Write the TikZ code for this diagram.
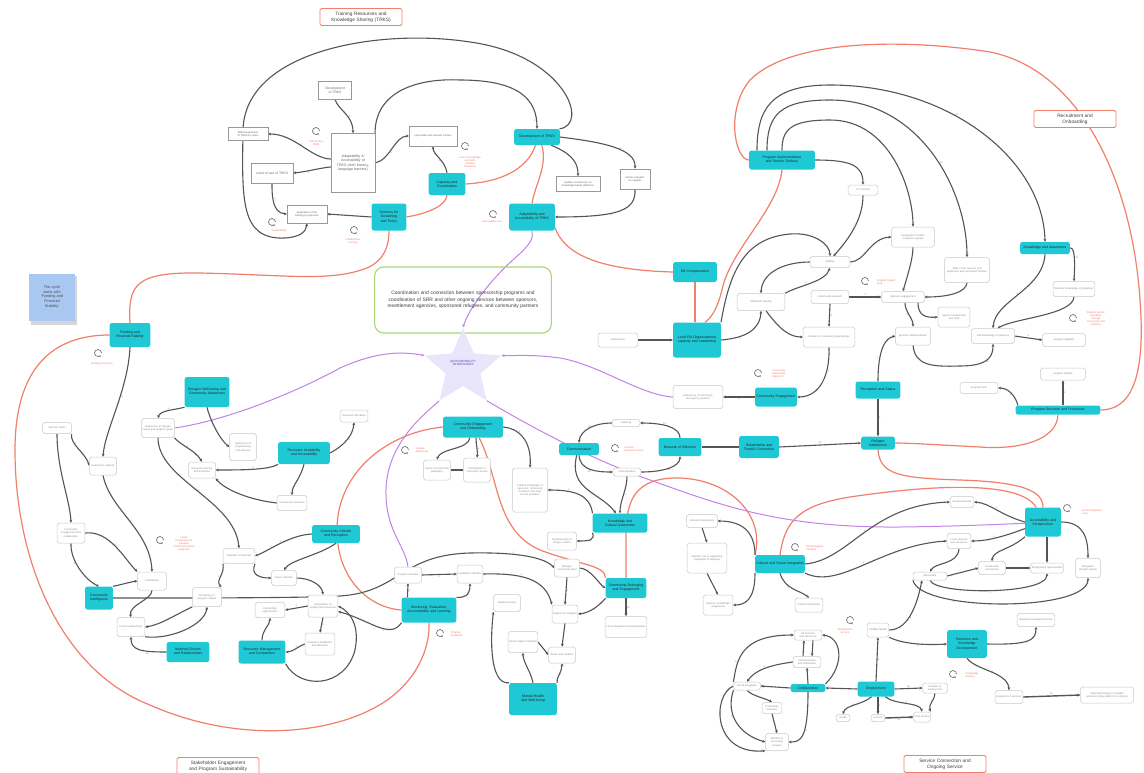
\documentclass[tikz,border=0pt]{standalone}
\usepackage{fontspec}
\setmainfont{Liberation Sans}
\usetikzlibrary{arrows.meta,shapes.geometric,calc}
\pgfdeclarelayer{bgl}
\pgfdeclarelayer{edges}
\pgfsetlayers{bgl,edges,main}
\definecolor{tealc}{RGB}{30,200,212}
\definecolor{redc}{RGB}{242,126,108}
\definecolor{purc}{RGB}{192,132,230}
\definecolor{lineg}{RGB}{85,85,85}
\definecolor{boxg}{RGB}{200,200,200}
\definecolor{greenc}{RGB}{168,214,120}
\definecolor{starc}{RGB}{233,229,250}
\definecolor{stickyc}{RGB}{168,200,242}
\definecolor{acctblue}{RGB}{60,70,200}
\hyphenpenalty=10000
\exhyphenpenalty=10000
\begin{document}
\begin{tikzpicture}[x=1pt,y=-1pt,
  tb/.style 2 args={draw=none,fill=tealc,rounded corners=2.2pt,align=center,text width=#1,minimum height=#2,inner sep=0.8pt,font=\fontsize{3.5}{4.1}\selectfont,text=black!85},
  wb/.style 2 args={draw=boxg,fill=white,rounded corners=1.8pt,align=center,text width=#1,minimum height=#2,inner sep=0.8pt,line width=0.5pt,font=\fontsize{2.6}{3.1}\selectfont,text=black!45},
  sq/.style 2 args={draw=black!40,fill=white,align=center,text width=#1,minimum height=#2,inner sep=0.8pt,line width=0.5pt,font=\fontsize{3.3}{4}\selectfont,text=black!60},
  ttl/.style={draw=redc,line width=0.9pt,rounded corners=1.5pt,fill=white,align=center,text width=80pt,minimum height=17pt,inner sep=1pt,font=\fontsize{4.8}{5.8}\selectfont,text=black!75},
  lp/.style={circle,draw=none,minimum size=7pt,inner sep=0pt},
  ll/.style={text=redc,font=\fontsize{2.6}{3}\selectfont,align=center,inner sep=0pt},
  gl/.style={draw=lineg,line width=1.1pt,-{Stealth[length=3pt,width=2.8pt]}},
  gn/.style={draw=lineg,line width=1.1pt},
  rl/.style={draw=redc,line width=1.2pt},
  pl/.style={draw=purc,line width=1pt},
  pa/.style={draw=purc,line width=1pt,-{Stealth[length=3pt,width=2.8pt]}},
  pol/.style={font=\fontsize{2.8}{3}\selectfont,text=black!60,inner sep=0.5pt},
]
\useasboundingbox (0,0) rectangle (1144,772);

% ---------- region titles ----------
\node[ttl] (tTRKS) at (361,17) {Training Resources and\\Knowledge Sharing (TRKS)};
\node[ttl] (tRecr) at (1075,119) {Recruitment and\\Onboarding};
\node[ttl] (tStake) at (218,766) {Stakeholder Engagement\\and Program Sustainability};
\node[ttl] (tServ) at (945,764) {Service Connection and\\Ongoing Service};

% ---------- note, central statement, accountability star ----------
\node[fill=stickyc,text width=40pt,minimum height=47pt,align=center,inner sep=3pt,font=\fontsize{3.8}{4.8}\selectfont,text=black!70] (sticky) at (52,297) {The cycle\\starts with\\‘Funding and\\Financial\\Stability’};
\node[draw=greenc,line width=1.1pt,rounded corners=9pt,fill=none,text width=170pt,minimum height=66pt,align=center,font=\fontsize{4.9}{6.4}\selectfont,text=black!75] (coord) at (463,300) {Coordination and connection between sponsorship programs and coordination of SRR and other ongoing services between sponsors, resettlement agencies, sponsored refugees, and community partners};
\node[star,star points=5,star point ratio=2.2,minimum size=80pt,fill=starc,inner sep=0pt] (acct) at (463,368) {};
\node[font=\fontsize{3}{3.6}\selectfont,text=acctblue,align=center,inner sep=0pt] (accttxt) at (463,363) {ACCOUNTABILITY\\TO REFUGEES};

% ---------- key variables (teal) ----------
\node[tb={44pt}{16pt}] (devtrks) at (537,137) {Development of TRKS};
\node[tb={35pt}{22pt}] (capcoord) at (447,184) {Capacity and Coordination};
\node[tb={33pt}{27pt}] (servsus) at (389,217) {Services for Sustaining and Policy};
\node[tb={44pt}{27pt}] (adapt) at (532,217) {Adaptability and Accessibility of TRKS};
\node[tb={39pt}{24pt}] (fund) at (130,335) {Funding and Financial Stability};
\node[tb={43pt}{30pt}] (wellaware) at (207,392) {Refugee Well-being and Community Awareness};
\node[tb={50pt}{22pt}] (resavail) at (304,453) {Resource Availability and Accessibility};
\node[tb={46pt}{18pt}] (commatt) at (336,534) {Community Attitude and Perception};
\node[tb={26pt}{23pt}] (commint) at (99,598) {Community Intelligence};
\node[tb={41pt}{20pt}] (matched) at (188,652) {Matched Donors and Relationships};
\node[tb={45pt}{23pt}] (resmgmt) at (262,652) {Resource Management and Competition};
\node[tb={53pt}{25pt}] (meal) at (429,610) {Monitoring, Evaluation, Accountability and Learning};
\node[tb={58pt}{21pt}] (commeng) at (473,427) {Community Engagement and Onboarding};
\node[tb={46pt}{32pt}] (mental) at (533,699) {Mental Health and Well-being};
\node[tb={39pt}{20pt}] (belong) at (626,588) {Community Belonging and Engagement};
\node[tb={53pt}{19pt}] (knowcult) at (620,523) {Knowledge and Cultural Awareness};
\node[tb={38pt}{12pt}] (comm) at (579,449) {Communication};
\node[tb={41pt}{18pt}] (netinf) at (680,447) {Network of Influence};
\node[tb={38pt}{22pt}] (reltrust) at (759,447) {Relationship and Trustful Connection};
\node[tb={32pt}{13pt}] (refsat) at (878,443) {Refugee Satisfaction};
\node[tb={64pt}{19pt}] (progimpl) at (782,160) {Program Implementation and Service Delivery};
\node[tb={42pt}{20pt}] (billc) at (695,272) {Bill Compensation};
\node[tb={46pt}{35pt}] (localra) at (697,340) {Local RA Organizational capacity and Leadership};
\node[tb={48pt}{12pt}] (knowaw) at (1045,248) {Knowledge and Awareness};
\node[tb={40pt}{19pt}] (commengage) at (776,397) {Community Engagement};
\node[tb={43pt}{17pt}] (percept) at (878,390) {Perception and Status};
\node[tb={83pt}{9pt}] (progstruct) at (1058,410) {Program Structure and Processes};
\node[tb={34pt}{29pt}] (access) at (1043,522) {Accessibility and Infrastructure};
\node[tb={48pt}{18pt}] (cultint) at (780,564) {Cultural and Social Integration};
\node[tb={38pt}{28pt}] (resknow) at (967,644) {Resource and Knowledge Development};
\node[tb={35pt}{15pt}] (employ) at (876,689) {Employment};
\node[tb={33pt}{8pt}] (collab) at (808,688) {Collaboration};

% ---------- TRKS variables ----------
\node[sq={31pt}{18pt}] (wdev) at (335,90) {Development of TRKS};
\node[sq={42pt}{59pt},font=\fontsize{3.6}{4.6}\selectfont] (wadapt) at (353,163) {Adaptability \& Accessibility of TRKS (tech literacy, language barriers)};
\node[sq={38pt}{13pt},font=\fontsize{2.6}{3.1}\selectfont] (weff) at (248,134) {Effectiveness/use of TRKS by users};
\node[sq={40pt}{20pt}] (wlevel) at (272,173) {Level of use of TRKS};
\node[sq={38pt}{18pt},font=\fontsize{2.6}{3.1}\selectfont] (wapp) at (307,214) {Application of the training by sponsors};
\node[sq={46pt}{20pt},font=\fontsize{2.6}{3.1}\selectfont] (wupdate) at (433,136) {Up-to-date and relevant content};
\node[sq={42pt}{15pt},font=\fontsize{2.6}{3.1}\selectfont] (wupd2) at (578,184) {Update of resources on knowledge-based platforms};
\node[sq={28pt}{20pt},font=\fontsize{2.6}{3.1}\selectfont] (wadhoc) at (635,179) {Ad-hoc requests for support};

% ---------- recruitment variables ----------
\node[wb={28pt}{10pt}] (wcoh) at (863,190) {\# of cohorts};
\node[wb={38pt}{11pt}] (wstaff) at (830,262) {Staffing};
\node[wb={41pt}{20pt}] (wgeo) at (913,237) {Geographic location of sponsor groups};
\node[wb={43pt}{25pt}] (wskill) at (967,270) {Skills of the sponsor and applicants and sponsored families};
\node[wb={46pt}{17pt}] (wstcap) at (761,302) {Staff/staff capacity};
\node[wb={36pt}{13pt}] (woutr) at (830,297) {Community outreach};
\node[wb={41pt}{11pt}] (wspeng) at (903,297) {Sponsor engagement};
\node[wb={30pt}{20pt}] (wsprel) at (954,317) {Sponsor relationship with staff};
\node[wb={33pt}{18pt}] (wspimp) at (913,336) {Sponsor implementation};
\node[wb={50pt}{20pt}] (wdeliv) at (829,337) {Delivery of community partnerships};
\node[wb={41pt}{15pt}] (wself) at (993,336) {Self-knowledge of sponsors};
\node[wb={40pt}{15pt}] (wspknow) at (1074,289) {Sponsor knowledge of guidelines};
\node[wb={41pt}{13pt}] (welig) at (1064,340) {program eligibility};
\node[wb={43pt}{12pt}] (wstab) at (1063,374) {program stability};
\node[wb={36pt}{11pt}] (wtools) at (979,388) {program tools};
\node[wb={48pt}{23pt}] (wexp) at (698,397) {Experience of community and agency partners};
\node[wb={38pt}{14pt}] (wrefine) at (618,340) {Refinement};

% ---------- stakeholder variables ----------
\node[wb={27pt}{11pt}] (wspfund) at (57,428) {Sponsor funds};
\node[wb={25pt}{18pt}] (winvest) at (103,466) {Investment capacity};
\node[wb={26pt}{20pt}] (wcollab) at (71,533) {Community engagement and collaboration};
\node[wb={27pt}{18pt}] (wfundr) at (152,581) {Fundraising};
\node[wb={31pt}{19pt}] (wawar) at (158,428) {Awareness of refugee needs and program goals};
\node[wb={25pt}{27pt}] (wawprog) at (243,447) {Awareness of programming and services};
\node[wb={26pt}{12pt}] (wresall) at (354,416) {Resource allocation};
\node[wb={25pt}{16pt}] (wshare) at (202,470) {Resource sharing and donations};
\node[wb={28pt}{15pt}] (wcomres) at (292,503) {Community resources};
\node[wb={30pt}{15pt}] (wvol) at (239,556) {Volunteer recruitment};
\node[wb={23pt}{15pt}] (wdon) at (284,578) {Donor retention};
\node[wb={27pt}{19pt}] (wmonit) at (207,597) {Monitoring of program impact};
\node[wb={26pt}{19pt}] (wdonrel) at (131,627) {Donor relationships};
\node[wb={28pt}{15pt}] (wpartn) at (270,610) {Partnership opportunities};
\node[wb={28pt}{22pt}] (wcompet) at (323,606) {Competition for funding and resources};
\node[wb={28pt}{22pt}] (wresdist) at (320,644) {Resource distribution and allocation};
\node[wb={25pt}{16pt}] (wactiv) at (408,575) {Program activities};
\node[wb={24pt}{18pt}] (wfeed) at (470,574) {Feedback collection};
\node[wb={23pt}{18pt}] (wrefeng) at (567,568) {Refugee community input};
\node[wb={24pt}{18pt}] (wsupp) at (565,614) {Support for refugees};
\node[wb={25pt}{17pt}] (wserv) at (507,603) {Health services};
\node[wb={28pt}{21pt}] (wsupnet) at (523,642) {Social support networks};
\node[wb={25pt}{16pt}] (wstress) at (562,655) {Stress and isolation};
\node[wb={40pt}{21pt}] (wlang) at (626,627) {Local integration and participation};
\node[wb={27pt}{18pt}] (wcult) at (562,541) {Understanding of refugee culture};
\node[wb={33pt}{44pt}] (wtall) at (530,490) {Cultural knowledge of sponsors, community members and local service providers};
\node[wb={25pt}{20pt}] (wcomm1) at (437,470) {Sense of community belonging};
\node[wb={25pt}{24pt}] (wcomm2) at (477,470) {Participation in community events};
\node[wb={26pt}{7pt}] (wlisten) at (626,423) {Listening};
\node[wb={26pt}{8pt}] (wunder) at (627,472) {Understanding};

% ---------- service variables ----------
\node[wb={29pt}{13pt}] (wcultcomp) at (702,521) {Cultural Competency};
\node[wb={38pt}{30pt}] (wsprole) at (707,558) {Sponsor role in supporting integration of refugees};
\node[wb={28pt}{20pt}] (wspaware) at (718,605) {Sponsor Knowledge / Awareness};
\node[wb={26pt}{14pt}] (wcultor) at (809,605) {Cultural Orientation};
\node[wb={22pt}{11pt}] (wsocial) at (962,502) {Social Networks};
\node[wb={22pt}{15pt}] (wlocal) at (959,541) {Local services and resources};
\node[wb={32pt}{8pt}] (wment) at (930,576) {Mentorship};
\node[wb={25pt}{13pt}] (wconn) at (992,568) {Community connections};
\node[wb={31pt}{10pt}] (wemp) at (1047,568) {Employment opportunities};
\node[wb={23pt}{19pt}] (wnav) at (1088,568) {Navigation through system};
\node[wb={20pt}{14pt}] (wmob) at (878,630) {Mobility Needs};
\node[wb={36pt}{13pt}] (wresplan) at (1036,620) {Resource Development Plan};
\node[wb={26pt}{13pt}] (wrsearch) at (1009,697) {Research of services};
\node[wb={51pt}{16pt}] (wtech) at (1107,695) {Tools/technology to navigate services (online platforms \& others)};
\node[wb={26pt}{10pt}] (wallsv) at (808,635) {All services and resources};
\node[wb={26pt}{11pt}] (winfo) at (807,662) {Communication and information};
\node[wb={25pt}{8pt}] (wsocint) at (747,686) {Social integration};
\node[wb={18pt}{11pt}] (wcommn) at (772,708) {Community networks};
\node[wb={21pt}{17pt}] (wbarr) at (777,742) {Barriers to accessing services};
\node[wb={23pt}{10pt}] (wincome) at (935,688) {Duration of employment};
\node[wb={12pt}{7pt}] (whealth) at (843,718) {Health};
\node[wb={12pt}{7pt}] (wincom2) at (878,718) {Income};
\node[wb={15pt}{10pt}] (whost) at (922,717) {Host sectors};

% ---------- loop markers ----------
\node[lp] (l1) at (316,131) {};  \node[ll] (l1t) at (316,143) {Reinforcing\\TRKS};
\node[lp] (l2) at (465,146) {};  \node[ll] (l2t) at (470,162) {Loss of knowledge\\and skills\\(training\\frequency)};
\node[lp] (l3) at (272,222) {};  \node[ll] (l3t) at (279,231) {Sustainability};
\node[lp] (l4) at (354,230) {};  \node[ll] (l4t) at (353,241) {Collaborative\\funding};
\node[lp] (l5) at (493,214) {};  \node[ll] (l5t) at (492,222) {Accessibility loop};
\node[lp] (l6) at (98,353) {};   \node[ll] (l6t) at (102,364) {Funding Promotion};
\node[lp] (l7) at (865,281) {};  \node[ll,align=left] (l7t) at (886,282) {Program Impact\\Loop};
\node[lp] (l8) at (758,373) {};  \node[ll,align=left] (l8t) at (779,374) {Community\\Partnership\\Approach};
\node[lp] (l9) at (1073,318) {}; \node[ll] (l9t) at (1096,319) {Support system\\formation\\through\\community trust\\building};
\node[lp] (l10) at (160,540) {}; \node[ll] (l10t) at (184,544) {Limits\\Involvement of\\Sponsor\\Community-based\\programs};
\node[lp] (l11) at (405,450) {}; \node[ll,align=left] (l11t) at (422,450) {Cultural\\Awareness};
\node[lp] (l12) at (440,633) {}; \node[ll,align=left] (l12t) at (457,634) {Program\\Evaluation};
\node[lp] (l13) at (615,448) {}; \node[ll,align=left] (l13t) at (634,449) {Cultural\\Responsiveness};
\node[lp] (l14) at (795,547) {}; \node[ll,align=left] (l14t) at (815,548) {Social Support\\Network};
\node[lp] (l15) at (1067,508) {}; \node[ll,align=left] (l15t) at (1092,512) {Social Integration\\Loop};
\node[lp] (l16) at (850,620) {}; \node[ll] (l16t) at (845,631) {Employment\\access};
\node[lp] (l17) at (953,674) {}; \node[ll,align=left] (l17t) at (972,675) {Knowledge\\Sharing};
% circular arrow drawn in each loop marker
\foreach \n in {l1,l2,l3,l4,l5,l6,l7,l8,l9,l10,l11,l12,l13,l14,l15,l16,l17}
  \draw[black!55,line width=0.7pt,-{Stealth[length=1.8pt,width=2pt]}] ([xshift=3.5pt]\n.center) arc[start angle=0,end angle=320,radius=3.5pt];

% ---------- background ----------
\begin{pgfonlayer}{bgl}
  \fill[white] (0,0) rectangle (1144,772);
  \fill[black!16] (31,276) rectangle (77,325);
\end{pgfonlayer}

\begin{pgfonlayer}{edges}
% ===== red links between key variables =====
\draw[rl] (servsus.east) .. controls (430,213) and (446,205) .. (capcoord.south);
\draw[rl] (capcoord.east) .. controls (500,182) and (527,170) .. (devtrks.-100);
\draw[rl] (devtrks.-60) .. controls (548,165) and (535,185) .. (adapt.north);
\draw[rl] (adapt.-25) .. controls (565,255) and (600,270) .. (billc.west);
\draw[rl] (billc.south) -- (billc.south |- localra.north);
\draw[rl] (progimpl.south) .. controls (778,210) and (730,250) .. (722,290) .. controls (718,305) and (714,315) .. (localra.65);
\draw[rl] (progimpl.west) .. controls (735,160) and (725,110) .. (750,80) .. controls (790,40) and (900,38) .. (990,52) .. controls (1080,70) and (1132,180) .. (1140,300) .. controls (1146,380) and (1130,410) .. (progstruct.east);
\draw[rl] (fund.north) .. controls (128,285) and (135,272) .. (200,273) .. controls (290,275) and (330,282) .. (367,268) .. controls (385,260) and (389,245) .. (servsus.south);
\draw[rl] (fund.west) .. controls (60,335) and (15,360) .. (15,450) .. controls (15,560) and (60,670) .. (150,705) .. controls (240,745) and (340,735) .. (390,698) .. controls (420,675) and (430,645) .. (meal.south);
\draw[rl] (commeng.west) .. controls (390,432) and (337,470) .. (337,530) .. controls (337,580) and (370,608) .. (meal.west);
\draw[rl] (commeng.-60) .. controls (500,480) and (495,530) .. (540,550) .. controls (580,565) and (605,565) .. (belong.north west);
\draw[rl] (cultint.north west) .. controls (765,515) and (730,480) .. (680,478) .. controls (635,477) and (626,500) .. (626,535) -- (belong.north);
\draw[rl] (cultint.north) .. controls (785,520) and (800,505) .. (850,497) .. controls (930,485) and (1020,480) .. (access.115);
\draw[rl] (progstruct.south) .. controls (1057,440) and (1020,450) .. (980,447) .. controls (940,445) and (910,443) .. (refsat.east);
\draw[rl] (refsat.south) .. controls (880,475) and (900,478) .. (960,480) .. controls (1020,482) and (1043,490) .. (access.north);

% ===== purple links to accountability =====
\draw[pa] (adapt.south) .. controls (534,238) and (530,245) .. (515,258) .. controls (490,280) and (468,310) .. (acct.90);
\draw[pa] (wawar.east) .. controls (230,420) and (300,390) .. (340,368) .. controls (380,350) and (405,352) .. (acct.162);
\draw[pa] (wexp.west) .. controls (640,395) and (600,365) .. (560,358) .. controls (530,354) and (515,356) .. (acct.18);
\draw[pl] (acct.234) .. controls (430,410) and (387,440) .. (386,490) .. controls (385,530) and (405,545) .. (wactiv.north);
\draw[pl] (acct.306) .. controls (520,420) and (580,455) .. (650,480) .. controls (720,505) and (780,528) .. (900,527) .. controls (980,526) and (1020,523) .. (access.east);

% ===== TRKS causal links =====
\draw[gl] (devtrks.20) .. controls (590,125) and (565,55) .. (470,42) .. controls (380,28) and (245,50) .. (243,130) .. controls (242,200) and (240,240) .. (285,238) .. controls (300,237) and (306,232) .. (wapp.south);
\draw[gl] (wadapt.north east) .. controls (375,90) and (420,78) .. (460,80) .. controls (520,80) and (537,100) .. (devtrks.north) node[pol,pos=.9,left]{+};
\draw[gl] (wdev.south) .. controls (338,110) and (353,115) .. (wadapt.north) node[pol,pos=.6,right]{+};
\draw[gl] (wadapt.170) .. controls (310,158) and (295,134) .. (weff.east) node[pol,pos=.5,above]{+};
\draw[gl] (wadapt.190) .. controls (320,168) and (305,172) .. (wlevel.east) node[pol,pos=.6,below]{+};
\draw[gl] (wadapt.east) .. controls (390,160) and (395,136) .. (wupdate.west) node[pol,pos=.4,right]{+};
\draw[gl] (capcoord.north) .. controls (445,160) and (433,155) .. (wupdate.south) node[pol,pos=.4,left]{+};
\draw[gl] (wlevel.south) .. controls (272,195) and (272,213) .. (wapp.west) node[pol,pos=.4,right]{+};
\draw[gl] (servsus.west) -- (wapp.east);
\draw[gl] (devtrks.-30) .. controls (575,155) and (578,165) .. (wupd2.north);
\draw[gl] (devtrks.east) .. controls (600,142) and (636,148) .. (wadhoc.north) node[pol,pos=.6,above]{+};
\draw[gl] (wadhoc.south) .. controls (636,210) and (620,217) .. (adapt.east) node[pol,pos=.6,below]{+};

% ===== recruitment causal links =====
\draw[gl] ([xshift=8pt]progimpl.north west) .. controls (757,110) and (770,85) .. (830,85) .. controls (950,85) and (1043,160) .. (knowaw.north) node[pol,pos=.4,above]{+/-};
\draw[gl] ([xshift=18pt]progimpl.north west) .. controls (767,115) and (780,100) .. (830,100) .. controls (920,100) and (967,190) .. (wskill.north) node[pol,pos=.55,right]{+/-};
\draw[gl] ([xshift=33pt]progimpl.north west) .. controls (782,130) and (790,120) .. (830,120) .. controls (890,120) and (913,190) .. (wgeo.north);
\draw[gl] (progimpl.east) .. controls (850,160) and (863,165) .. (wcoh.north);
\draw[gl] (wcoh.south) .. controls (863,220) and (848,240) .. (wstaff.60);
\draw[gl] (wstaff.east) .. controls (865,262) and (870,238) .. (wgeo.west);
\draw[gl] (localra.east) .. controls (745,338) and (760,330) .. (wstcap.south) node[pol,pos=.3,below]{+};
\draw[gl] (localra.north east) .. controls (730,270) and (745,238) .. (790,234) .. controls (815,232) and (830,245) .. (wstaff.north) node[pol,pos=.3,left]{+};
\draw[gl] (wstaff.west) .. controls (785,262) and (762,272) .. (wstcap.north);
\draw[gl] (wstcap.north east) .. controls (800,285) and (825,282) .. (wstaff.south) node[pol,pos=.4,above]{+};
\draw[gl] (woutr.east) -- (wspeng.west) node[pol,pos=.5,above]{+};
\draw[gl] (wstcap.-60) .. controls (780,330) and (790,337) .. (wdeliv.west);
\draw[gl] (woutr.south) -- (wdeliv.north) node[pol,pos=.5,right]{+};
\draw[gl] (wdeliv.south) .. controls (830,375) and (820,397) .. (commengage.east) node[pol,pos=.3,right]{+};
\draw[gl] (commengage.west) -- (wexp.east) node[pol,pos=.5,below]{+};
\draw[gl] ([xshift=15pt]wspeng.south) .. controls (918,315) and (925,318) .. (wsprel.west);
\draw[gl] ([xshift=2pt]wspeng.south) .. controls (905,312) and (913,318) .. (wspimp.north) node[pol,pos=.5,left]{+};
\draw[gl] (wskill.south) .. controls (966,292) and (950,297) .. (wspeng.east);
\draw[gl] (wgeo.south) .. controls (913,260) and (906,280) .. (wspeng.north);
\draw[gl] (percept.north) .. controls (878,350) and (885,338) .. (wspimp.west) node[pol,pos=.3,left]{+};
\draw[gl] (percept.south) -- (refsat.north) node[pol,pos=.5,right]{+};
\draw[gl] (wspimp.south) .. controls (915,365) and (930,367) .. (960,366) .. controls (990,366) and (993,355) .. (wself.south) node[pol,pos=.5,below]{+/-};
\draw[gl] (knowaw.south) .. controls (1043,290) and (995,300) .. (wself.north) node[pol,pos=.5,left]{+};
\draw[gl] (knowaw.east) .. controls (1075,247) and (1075,262) .. (wspknow.north) node[pol,pos=.5,right]{+/-};
\draw[gl] (wspknow.south) .. controls (1073,315) and (1015,318) .. (wself.60);
\draw[gl] (wself.east) -- (welig.west) node[pol,pos=.5,above]{+};
\draw[gl] ([xshift=5pt]progstruct.north) -- (wstab.south) node[pol,pos=.5,right]{+};
\draw[gl] ([xshift=-40pt]progstruct.north) .. controls (1015,395) and (1008,388) .. (wtools.east) node[pol,pos=.5,below]{+};
\draw[gl] (wrefine.east) -- (localra.west);

% ===== communication loop =====
\draw[gl] (netinf.north) .. controls (680,428) and (665,423) .. (wlisten.east) node[pol,pos=.6,above]{+/-};
\draw[gl] (wlisten.west) .. controls (595,423) and (580,430) .. (comm.north) node[pol,pos=.5,above]{+/-};
\draw[gl] (comm.south) .. controls (580,470) and (595,472) .. (wunder.west) node[pol,pos=.5,below]{+/-};
\draw[gl] (wunder.east) .. controls (665,472) and (680,466) .. (netinf.south) node[pol,pos=.5,below]{+/-};
\draw[gn] (netinf.east) -- (reltrust.west);
\draw[gl] (reltrust.east) -- (refsat.west) node[pol,pos=.5,above]{+/-};
\draw[gl] (comm.-110) .. controls (568,490) and (600,492) .. ([xshift=-4pt]knowcult.north);
\draw[gl] (wunder.south) .. controls (627,490) and (620,500) .. (knowcult.north) node[pol,pos=.5,right]{+};
\draw[gl] (knowcult.north west) .. controls (590,495) and (575,490) .. (wtall.east) node[pol,pos=.7,above]{+};
\draw[gl] (knowcult.south west) .. controls (595,540) and (590,541) .. (wcult.east) node[pol,pos=.5,below]{+};

% ===== community engagement and wellbeing =====
\draw[gl] (commeng.east) .. controls (518,428) and (532,440) .. (wtall.north) node[pol,pos=.4,above]{+};
\draw[gl] ([xshift=-3pt]commeng.south) .. controls (468,450) and (440,448) .. (wcomm1.north);
\draw[gl] ([xshift=3pt]commeng.south) .. controls (476,445) and (478,452) .. (wcomm2.north) node[pol,pos=.5,right]{+};
\draw[gn,line width=1.6pt] (wcomm1.east) -- (wcomm2.west);
\draw[gl] (belong.south west) .. controls (600,605) and (590,613) .. (wsupp.east) node[pol,pos=.5,below]{+};
\draw[gl] (belong.south) -- (wlang.north) node[pol,pos=.5,right]{+/-};
\draw[gl] (wrefeng.east) .. controls (590,568) and (600,585) .. (belong.west);
\draw[gl] (wrefeng.south) -- (wsupp.north) node[pol,pos=.5,right]{+};
\draw[gl] (wsupp.south) -- (wstress.north);
\draw[gl] (wsupnet.east) -- (wstress.west);
\draw[gl] (mental.north east) .. controls (556,678) and (562,672) .. (wstress.south) node[pol,pos=.5,right]{+};
\draw[gl] (mental.north) .. controls (531,672) and (523,662) .. (wsupnet.south);
\draw[gl] (mental.north west) .. controls (490,685) and (490,640) .. (wserv.south west);
\draw[gl] (wactiv.east) -- (wfeed.west) node[pol,pos=.5,below]{+};
\draw[gl] ([xshift=6pt]meal.north west) -- (wactiv.south) node[pol,pos=.5,right]{+};
\draw[gl] (meal.north east) .. controls (465,598) and (470,595) .. (wfeed.south) node[pol,pos=.5,right]{+};
\draw[gl] (wfeed.east) .. controls (520,573) and (545,578) .. (wsupp.north west) node[pol,pos=.4,above]{+};
\draw[gl] (commint.east) .. controls (200,598) and (300,598) .. (340,596) .. controls (400,592) and (400,555) .. (470,553) .. controls (520,552) and (545,558) .. (wrefeng.west) node[pol,pos=.35,above]{+};

% ===== stakeholder causal links =====
\draw[gl] (fund.south) .. controls (128,390) and (105,430) .. (winvest.north) node[pol,pos=.4,right]{+};
\draw[gl] (wspfund.south east) .. controls (70,445) and (85,452) .. (winvest.west) node[pol,pos=.4,above]{+};
\draw[gl] (wspfund.south) .. controls (57,470) and (70,500) .. (wcollab.north);
\draw[gl] (winvest.south) .. controls (110,510) and (150,530) .. (wfundr.north) node[pol,pos=.5,right]{+};
\draw[gl] (wcollab.east) .. controls (110,530) and (125,560) .. (wfundr.north west) node[pol,pos=.5,above]{+};
\draw[gl] (wcollab.south) .. controls (70,560) and (85,580) .. (commint.north) node[pol,pos=.4,left]{+};
\draw[gl] (commint.north east) .. controls (120,585) and (130,582) .. (wfundr.west);
\draw[gl] (wfundr.south) .. controls (152,600) and (128,605) .. (wdonrel.north);
\draw[gl] (wmonit.south west) .. controls (175,615) and (160,625) .. (wdonrel.east);
\draw[gl] (wdonrel.south east) .. controls (170,640) and (205,625) .. (wmonit.south);
\draw[gl] (matched.west) .. controls (140,652) and (131,650) .. (wdonrel.south) node[pol,pos=.3,below]{+/-};
\draw[gl] (wvol.south west) .. controls (225,575) and (215,580) .. (wmonit.north east) node[pol,pos=.5,left]{+};
\draw[gl] (wawar.south east) .. controls (180,445) and (195,450) .. (wshare.north) node[pol,pos=.5,above]{+};
\draw[gl] (wawar.south) .. controls (158,480) and (235,500) .. (wvol.north) node[pol,pos=.5,right]{+};
\draw[gl] (wellaware.south west) .. controls (175,410) and (160,410) .. (wawar.north) node[pol,pos=.5,above]{+};
\draw[gl] (wellaware.south) .. controls (210,420) and (220,440) .. (wawprog.west);
\draw[gl] (resavail.south west) .. controls (270,470) and (240,470) .. (wshare.east) node[pol,pos=.5,above]{+};
\draw[gl] (resavail.south) .. controls (300,480) and (292,485) .. (wcomres.north);
\draw[gl] (wcomres.west) .. controls (250,500) and (225,490) .. (wshare.south east);
\draw[gl] (resavail.east) .. controls (345,445) and (353,435) .. (wresall.south) node[pol,pos=.5,right]{+};
\draw[gl] (commatt.west) .. controls (290,535) and (270,550) .. (wvol.east) node[pol,pos=.5,above]{+};
\draw[gl] (commatt.south) .. controls (320,555) and (290,560) .. (wdon.north);
\draw[gl] (wvol.south east) .. controls (250,575) and (260,578) .. (wdon.west);
\draw[gl] (wdon.east) .. controls (310,578) and (322,585) .. (wcompet.north);
\draw[gl] (wcompet.west) -- (wpartn.east) node[pol,pos=.5,above]{+};
\draw[gl] (wcompet.south) -- (wresdist.north) node[pol,pos=.5,right]{+};
\draw[gl] (resmgmt.north) .. controls (262,630) and (270,625) .. (wpartn.south);
\draw[gl] (wresdist.west) .. controls (300,645) and (293,652) .. (resmgmt.east) node[pol,pos=.5,above]{+};
\draw[gl] (resmgmt.south east) .. controls (300,690) and (345,688) .. (355,650) .. controls (360,625) and (350,612) .. (wcompet.east);
\draw[gl] (meal.south west) .. controls (390,640) and (370,620) .. (wcompet.-20) node[pol,pos=.4,below]{+};

% ===== service causal links =====
\draw[gl] (cultint.160) .. controls (755,530) and (740,521) .. (wcultcomp.east);
\draw[gl] (wcultcomp.south) -- (wsprole.north);
\draw[gl] (wsprole.south) -- (wspaware.north);
\draw[gl] (cultint.south west) .. controls (755,600) and (745,605) .. (wspaware.east);
\draw[gl] (cultint.south) .. controls (785,590) and (800,590) .. (wcultor.north) node[pol,pos=.4,left]{+};
\draw[gl] (cultint.east) .. controls (850,560) and (870,505) .. (wsocial.west) node[pol,pos=.5,above]{+};
\draw[gl] (access.west) .. controls (1000,515) and (990,503) .. (wsocial.east) node[pol,pos=.5,above]{+};
\draw[gl] (cultint.-20) .. controls (840,590) and (880,545) .. (wlocal.west) node[pol,pos=.5,above]{+};
\draw[gl] (access.200) .. controls (1000,538) and (985,541) .. (wlocal.east) node[pol,pos=.5,above]{+};
\draw[gl] (wlocal.south) .. controls (958,565) and (935,562) .. (wment.north);
\draw[gl] (access.south west) .. controls (1010,550) and (993,550) .. (wconn.north);
\draw[gl] ([xshift=4pt]access.south) -- (wemp.north);
\draw[gl] (access.east) .. controls (1085,522) and (1088,540) .. (wnav.north);
\draw[gl] (wment.east) -- (wconn.west);
\draw[gl,line width=1.5pt] (wconn.east) -- (wemp.west);
\draw[gl] (wment.south) .. controls (935,595) and (1047,595) .. (wemp.south) node[pol,pos=.5,below]{+};
\draw[gl] (wment.south west) .. controls (920,612) and (1088,612) .. (wnav.south) node[pol,pos=.3,below]{+};
\draw[gl] (wmob.east) .. controls (910,630) and (918,600) .. ([xshift=-8pt]wment.south) node[pol,pos=.4,right]{+};
\draw[gl] (wmob.south east) .. controls (905,645) and (930,645) .. (resknow.west) node[pol,pos=.5,below]{+};
\draw[gl] (resknow.east) .. controls (1030,645) and (1036,640) .. (wresplan.south) node[pol,pos=.5,below]{+};
\draw[gl] (resknow.south) .. controls (975,670) and (1008,672) .. (wrsearch.north) node[pol,pos=.5,right]{+};
\draw[gl,line width=1.4pt] (wrsearch.east) -- (wtech.west) node[pol,pos=.5,above]{+/-};
\draw[gl] (employ.north) -- (wmob.south) node[pol,pos=.5,right]{+};
\draw[gl] (employ.west) -- (collab.east);
\draw[gl] (employ.east) -- (wincome.west) node[pol,pos=.5,above]{+/-};
\draw[gl] (employ.-120) .. controls (862,705) and (845,705) .. (whealth.north) node[pol,pos=.5,left]{+};
\draw[gl] ([xshift=2pt]employ.south) -- (wincom2.north) node[pol,pos=.5,right]{+};
\draw[gl] (employ.-40) .. controls (895,705) and (920,702) .. (whost.north) node[pol,pos=.5,above]{+};
\draw[gl,line width=1.4pt] (wincom2.east) -- (whost.west) node[pol,pos=.5,below]{+/-};
\draw[gl] (wincome.south) .. controls (935,700) and (928,704) .. (whost.north east);
\draw[gl] (collab.west) -- (wsocint.east);
\draw[gl] (collab.north) -- (winfo.south);
\draw[gl] ([xshift=-4pt]winfo.north) -- ([xshift=-4pt]wallsv.south);
\draw[gl] ([xshift=5pt]wallsv.south) -- ([xshift=5pt]winfo.north);
\draw[gl] (collab.south) .. controls (808,740) and (800,742) .. (wbarr.east) node[pol,pos=.4,right]{+};
\draw[gl] (wsocint.north west) .. controls (737,660) and (740,635) .. (wallsv.west) node[pol,pos=.3,left]{+};
\draw[gl] (collab.north east) .. controls (845,665) and (842,637) .. (wallsv.east);
\draw[gl] (winfo.west) .. controls (770,665) and (755,670) .. (wsocint.north) node[pol,pos=.5,above]{+};
\draw[gl] (wsocint.south) .. controls (752,696) and (765,698) .. (wcommn.north);
\draw[gl] (wcommn.south) -- (wbarr.north);
\draw[gl] (wsocint.south west) .. controls (725,715) and (740,735) .. (wbarr.west) node[pol,pos=.4,left]{+};
\draw[gl] (wsocint.west) .. controls (712,695) and (712,755) .. (wbarr.south west);
\end{pgfonlayer}
\end{tikzpicture}
\end{document}
